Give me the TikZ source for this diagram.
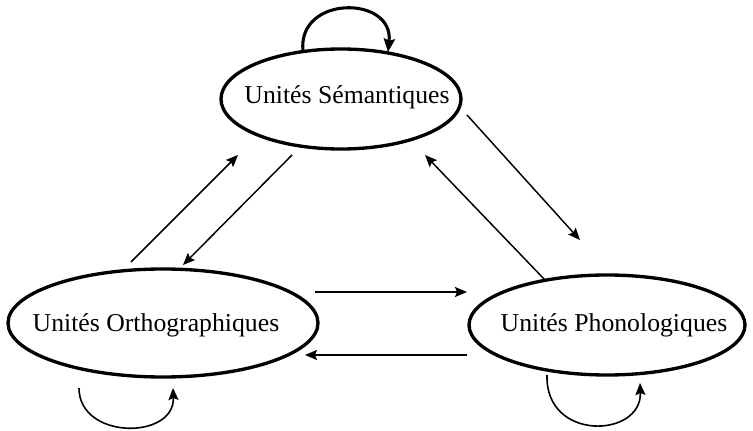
\documentclass[tikz,border=0pt]{standalone}
\usepackage{fontspec}
\setmainfont{Liberation Serif}
\usetikzlibrary{shapes.geometric,arrows.meta}
\begin{document}
\begin{tikzpicture}[x=0.75pt,y=-0.75pt,
  unit/.style={draw,ellipse,line width=2.5pt,inner sep=0pt},
  label/.style={font=\fontsize{19.3}{22}\selectfont},
  link/.style={line width=1.1pt,-{Stealth[length=9pt,width=7.5pt,inset=1.5pt]}},
  selfloop/.style={line width=1.2pt,-{Stealth[length=9pt,width=7.5pt,inset=1.5pt]}},
  bigloop/.style={line width=2.3pt,-{Stealth[length=10pt,width=8.5pt,inset=1.5pt]}}]
\useasboundingbox (0,0) rectangle (753,431);

% the three units
\node[unit,minimum width=180pt,minimum height=75pt] (sem) at (341,99) {};
\node[label] (semtxt) at (347,97) {Unités Sémantiques};
\node[unit,minimum width=232.5pt,minimum height=81pt] (orth) at (163,323) {};
\node[label] (orthtxt) at (156,325) {Unités Orthographiques};
\node[unit,minimum width=207pt,minimum height=75pt] (phon) at (607,325) {};
\node[label] (phontxt) at (614,325) {Unités Phonologiques};

% end points of the connections
\coordinate (os1) at (131,262); \coordinate (os2) at (238,155);
\coordinate (so1) at (292,155); \coordinate (so2) at (183,265);
\coordinate (sp1) at (467,115); \coordinate (sp2) at (580,240);
\coordinate (ps1) at (545,280); \coordinate (ps2) at (425,155);
\coordinate (op1) at (315,292); \coordinate (op2) at (467,292);
\coordinate (po1) at (467,355); \coordinate (po2) at (305,355);

\draw[link] (os1) -- (os2);
\draw[link] (so1) -- (so2);
\draw[link] (sp1) -- (sp2);
\draw[link] (ps1) -- (ps2);
\draw[link] (op1) -- (op2);
\draw[link] (po1) -- (po2);

% self loops
\coordinate (sl1) at (303,51); \coordinate (sl2) at (388,52);
\draw[bigloop] (sl1) .. controls (297,-5) and (394,-5) .. (sl2);
\coordinate (ol1) at (79,388); \coordinate (ol2) at (173,388);
\draw[selfloop] (ol1) .. controls (79,440) and (175,440) .. (ol2);
\coordinate (pl1) at (547,375); \coordinate (pl2) at (640,383);
\draw[selfloop] (pl1) .. controls (545,442) and (642,438) .. (pl2);
\end{tikzpicture}
\end{document}
